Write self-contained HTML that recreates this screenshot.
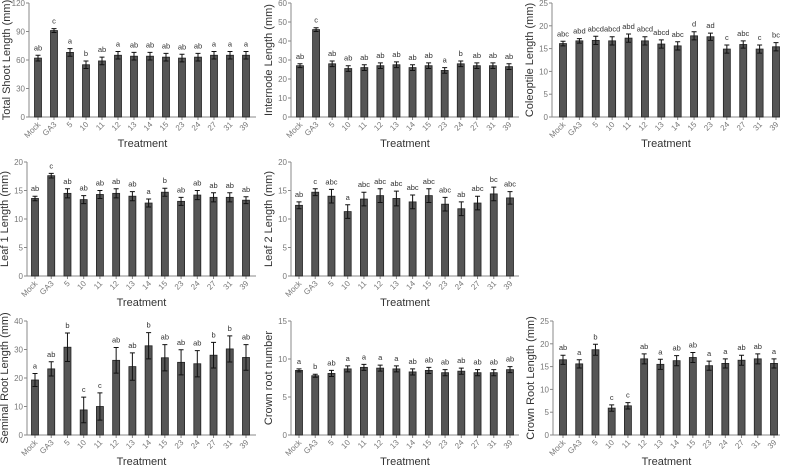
<!DOCTYPE html>
<html><head><meta charset="utf-8">
<style>
html,body{margin:0;padding:0;background:#fff;}
svg{display:block;font-family:"Liberation Sans",sans-serif;}
</style></head>
<body>
<svg id="chart" width="785" height="469" viewBox="0 0 785 469"></svg>
<script>
const categories = ["Mock","GA3","5","10","11","12","13","14","15","23","24","27","31","39"];

const shootValues = [62,91,68,55,59,65,64,64,63,62,63,65,65,65];
const shootErrors = [3,2,4,4,4,4,4,4,4,4,4,4,4,4];
const shootLetters = ["ab","c","a","b","ab","a","ab","ab","ab","ab","ab","a","a","a"];
const shootTicks = [0,30,60,90,120];

const internodeValues = [27,46,28,25.5,26,27,27.5,26,27,24.5,28,27,27,26.5];
const internodeErrors = [1,1,1.5,1.5,1.5,1.5,1.5,1.5,1.5,1.5,1.5,1.5,1.5,1.5];
const internodeLetters = ["ab","c","ab","ab","ab","ab","ab","ab","ab","a","b","ab","ab","ab"];
const internodeTicks = [0,10,20,30,40,50,60];

const coleoptileValues = [16.1,16.7,16.8,16.7,17.3,16.7,16,15.6,17.8,17.6,14.9,15.9,14.9,15.4];
const coleoptileErrors = [0.5,0.5,0.9,0.9,0.9,0.9,0.9,0.9,0.9,0.8,0.9,0.8,0.9,0.9];
const coleoptileLetters = ["abc","abd","abcd","abcd","abd","abcd","abcd","abc","d","ad","c","abc","c","bc"];
const coleoptileTicks = [0,5,10,15,20,25];

const leaf1Values = [13.6,17.6,14.5,13.4,14.3,14.5,14,12.8,14.7,13.1,14.2,13.8,13.8,13.3];
const leaf1Errors = [0.4,0.4,0.8,0.7,0.7,0.8,0.8,0.7,0.7,0.7,0.8,0.8,0.8,0.6];
const leaf1Letters = ["ab","c","ab","ab","ab","ab","ab","a","b","ab","ab","ab","ab","ab"];
const leafTicks = [0,5,10,15,20];

const leaf2Values = [12.4,14.7,14,11.3,13.5,14.1,13.6,13,14.1,12.6,11.8,12.8,14.4,13.7];
const leaf2Errors = [0.6,0.6,1.2,1.2,1.2,1.2,1.3,1.2,1.2,1.2,1.2,1.2,1.2,1.1];
const leaf2Letters = ["ab","c","abc","a","abc","abc","abc","abc","abc","abc","ab","abc","bc","abc"];

const seminalValues = [19.3,23.2,30.8,8.8,10,26.2,24,31.3,27.1,25.5,25,28,30.2,27.2];
const seminalErrors = [2.3,2.5,5,4.5,4.8,4.5,4.8,4.6,4.6,4.4,4.6,4.5,4.6,4.5];
const seminalLetters = ["a","ab","b","c","c","ab","ab","b","ab","ab","ab","b","b","ab"];
const seminalTicks = [0,10,20,30,40];

const crownNumValues = [8.5,7.8,8.1,8.7,8.9,8.8,8.7,8.3,8.5,8.2,8.4,8.2,8.2,8.6];
const crownNumErrors = [0.2,0.2,0.4,0.4,0.4,0.4,0.4,0.4,0.4,0.4,0.4,0.4,0.4,0.4];
const crownNumLetters = ["a","b","ab","a","a","a","a","ab","ab","ab","ab","ab","ab","ab"];
const crownNumTicks = [0,5,10,15];

const crownLenValues = [16.5,15.6,18.7,5.9,6.4,16.7,15.5,16.3,17,15.2,15.7,16.4,16.7,15.7];
const crownLenErrors = [1,0.9,1.2,0.7,0.7,1.1,1.1,1.1,1.1,1,1,1.1,1.1,1];
const crownLenLetters = ["ab","a","b","c","c","ab","a","ab","ab","a","a","ab","ab","a"];
const crownLenTicks = [0,5,10,15,20,25];

const NS = "http://www.w3.org/2000/svg";
const svg = document.getElementById("chart");
function mk(tag, attrs, parent){const e=document.createElementNS(NS,tag);for(const k in attrs)e.setAttribute(k,attrs[k]);(parent||svg).appendChild(e);return e;}

function panel(key, title, vals, errs, letters, ticks, L){
  const g = mk("g",{});
  
  
  const max = ticks[ticks.length-1];
  const y = v => L.bot - (v/max)*(L.bot-L.top);
  const step = (L.last-L.first)/(categories.length-1);
  const x = i => L.first + i*step;
  const ax = mk("line",{x1:L.ax,y1:L.top,x2:L.ax,y2:L.bot,stroke:"#888","stroke-width":1},g);
  
  
  const bx = mk("line",{x1:L.ax,y1:L.bot,x2:L.end,y2:L.bot,stroke:"#888","stroke-width":1},g);
  
  
  ticks.forEach(t=>{
    mk("line",{x1:L.ax-3,y1:y(t),x2:L.ax,y2:y(t),stroke:"#888"},g);
    const tl = mk("text",{x:L.ax-4,y:y(t)+3,"text-anchor":"end","font-size":8,fill:"#777"},g);
    tl.textContent = t;
    
    
  });
  categories.forEach((c,i)=>{
    const cx = x(i);
    mk("line",{x1:cx,y1:L.bot,x2:cx,y2:L.bot+3,stroke:"#888"},g);
    const b = mk("rect",{x:cx-3.5,y:y(vals[i]),width:7,height:L.bot-y(vals[i]),fill:"#555",stroke:"#222","stroke-width":0.8},g);
    
    
    const yt = y(vals[i]+errs[i]), yb = y(vals[i]-errs[i]);
    const eb = mk("path",{d:`M${cx},${yt}V${yb}M${cx-2.5},${yt}H${cx+2.5}M${cx-2.5},${yb}H${cx+2.5}`,stroke:"#111","stroke-width":1,fill:"none"},g);
    
    
    const lt = mk("text",{x:cx,y:yt-5,"text-anchor":"middle","font-size":7.5,fill:"#333"},g);
    lt.textContent = letters[i];
    
    
    const xl = mk("text",{x:cx+3,y:L.bot+8,"text-anchor":"end","font-size":8,fill:"#777",transform:`rotate(-45 ${cx+3} ${L.bot+8})`},g);
    xl.textContent = c;
    
    
  });
  const xt = mk("text",{x:(L.ax+L.end)/2,y:L.bot+30,"text-anchor":"middle","font-size":11,fill:"#333"},g);
  xt.textContent = "Treatment";
  
  
  const yx = L.ax-19, yy = (L.top+L.bot)/2;
  const yt = mk("text",{x:yx,y:yy,"text-anchor":"middle","font-size":11,fill:"#333",transform:`rotate(-90 ${yx} ${yy})`},g);
  yt.textContent = title;
  
  
}

panel("total-shoot","Total Shoot Length (mm)",shootValues,shootErrors,shootLetters,shootTicks,{ax:29,top:3,bot:117,first:38,last:246,end:256});
panel("internode","Internode Length (mm)",internodeValues,internodeErrors,internodeLetters,internodeTicks,{ax:291,top:3,bot:117,first:300,last:509,end:519});
panel("coleoptile","Coleoptile Length (mm)",coleoptileValues,coleoptileErrors,coleoptileLetters,coleoptileTicks,{ax:552,top:3,bot:117,first:563,last:776,end:780});
panel("leaf1","Leaf 1 Length (mm)",leaf1Values,leaf1Errors,leaf1Letters,leafTicks,{ax:27,top:162,bot:276,first:35,last:246,end:256});
panel("leaf2","Leaf 2 Length (mm)",leaf2Values,leaf2Errors,leaf2Letters,leafTicks,{ax:291,top:162,bot:276,first:299,last:510,end:519});
panel("seminal-root","Seminal Root Length (mm)",seminalValues,seminalErrors,seminalLetters,seminalTicks,{ax:27,top:321,bot:435,first:35,last:246,end:256});
panel("crown-root-number","Crown root number",crownNumValues,crownNumErrors,crownNumLetters,crownNumTicks,{ax:291,top:321,bot:435,first:299,last:510,end:519});
panel("crown-root-length","Crown Root Length (mm)",crownLenValues,crownLenErrors,crownLenLetters,crownLenTicks,{ax:553,top:321,bot:435,first:563,last:774,end:780});
</script>
</body></html>
